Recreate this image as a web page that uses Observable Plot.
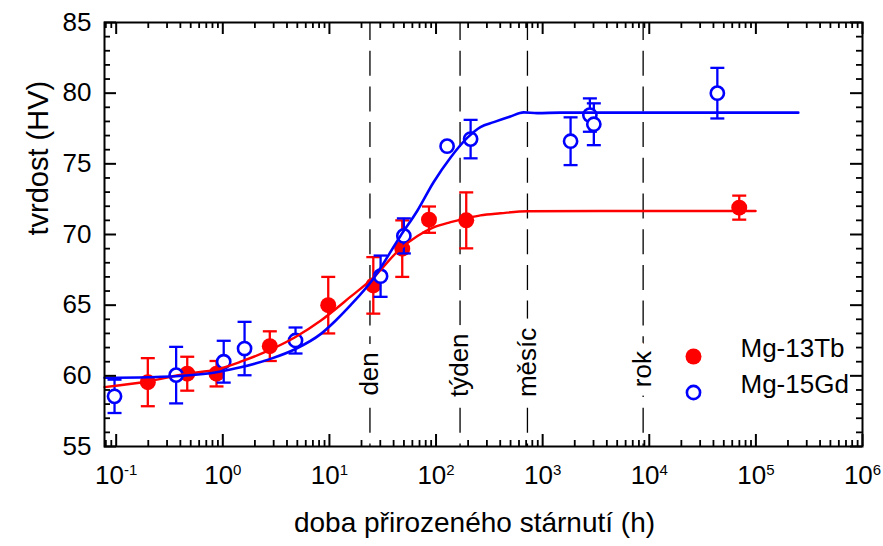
<!DOCTYPE html>
<html><head><meta charset="utf-8">
<script src="https://cdn.jsdelivr.net/npm/d3@7"></script>
<script src="https://cdn.jsdelivr.net/npm/@observablehq/plot@0.6"></script>
<style>
body{margin:0;background:#fff;}
#chart{width:883px;height:546px;}
svg text{font-family:"Liberation Sans",Arial,sans-serif;}
</style></head><body><div id="chart"></div>
<script>
// ---- data ----
const tbTime = [0.198, 0.464, 0.873, 2.76, 9.75, 25.8, 48.2, 85.9, 192, 69800];
const tbHV   = [59.55, 60.15, 60.15, 62.1, 65.0, 66.4, 69.0, 71.05, 71.0, 71.9];
const tbErr  = [1.7, 1.2, 0.9, 1.05, 2.0, 2.0, 2.0, 0.93, 1.98, 0.85];

const gdTime = [0.0965, 0.365, 1.02, 1.6, 4.81, 30.2, 49.9, 127, 211, 1828, 2773, 3020, 43500];
const gdHV   = [58.55, 60.05, 61.0, 61.93, 62.5, 67.05, 69.9, 76.25, 76.75, 76.6, 78.45, 77.8, 80.0];
const gdErr  = [1.18, 2.0, 1.48, 1.89, 0.92, 1.46, 1.24, 0, 1.36, 1.69, 1.18, 1.48, 1.79];

const tbFitTime = [0.0778, 0.197, 0.456, 0.873, 1.47, 2.80, 4.81, 8.26, 15.8, 25.4, 46.4, 67.0, 94.8, 137, 197, 261, 402, 721, 3490, 99300];
const tbFitHV   = [59.2, 59.6, 60.15, 60.45, 61.0, 61.85, 62.75, 63.9, 65.6, 66.9, 69.0, 69.9, 70.5, 70.87, 71.16, 71.35, 71.5, 71.65, 71.66, 71.66];

const gdFitTime = [0.0778, 0.197, 0.456, 0.873, 1.47, 2.80, 4.81, 8.26, 11.4, 15.8, 25.4, 46.4, 67.0, 94.8, 137, 197, 261, 348, 498, 664, 890, 1470, 250000];
const gdFitHV   = [59.86, 59.9, 60.02, 60.26, 60.6, 61.2, 61.9, 62.95, 63.9, 65.0, 66.8, 69.9, 71.7, 73.7, 75.45, 76.85, 77.6, 77.95, 78.35, 78.64, 78.59, 78.62, 78.62];

const periodNames  = ["den", "týden", "měsíc", "rok"];
const periodHours  = [24, 168, 720, 8760];
const periodLabelY = [58.6, 58.5, 58.5, 59.2];

const seriesNames = ["Mg-13Tb", "Mg-15Gd"];
const xTickExps = [-1, 0, 1, 2, 3, 4, 5, 6];
const xMinorMult = [2, 3, 4, 5, 6, 7, 8, 9];
const xMinorDecades = [-2, -1, 0, 1, 2, 3, 4, 5];
const yTicks = [55, 60, 65, 70, 75, 80, 85];
const yMinor = d3.range(55, 86).filter(v => v % 5 !== 0);

const xTitle = "doba přirozeného stárnutí (h)";
const yTitle = "tvrdost (HV)";

// ---- tables ----
const tb = tbTime.map((t, i) => ({t, v: tbHV[i], lo: tbHV[i] - tbErr[i], hi: tbHV[i] + tbErr[i], e: tbErr[i]}));
const gd = gdTime.map((t, i) => ({t, v: gdHV[i], lo: gdHV[i] - gdErr[i], hi: gdHV[i] + gdErr[i], e: gdErr[i]}));
const gdE = gd.filter(d => d.e > 0);
const tbFit = tbFitTime.map((t, i) => ({t, v: tbFitHV[i]}));
const gdFit = gdFitTime.map((t, i) => ({t, v: gdFitHV[i]}));
const xMajor = xTickExps.map(e => 10 ** e);
const xDomain = [0.0777, 1e6];
const xMinor = xMinorDecades.flatMap(k => xMinorMult.map(m => m * 10 ** k)).filter(v => v >= xDomain[0] && v <= xDomain[1]);

const W = 883, H = 546, mL = 104, mR = 21, mT = 22, mB = 100;
const fW = W - mL - mR, fH = H - mT - mB;
const majLen = 12, minLen = 6;
const RED = "#ff0000", BLUE = "#0000ff";
const capSymbol = {draw(ctx, size) { const r = Math.sqrt(size / Math.PI); ctx.moveTo(-r, 0); ctx.lineTo(r, 0); }};

const chart = Plot.plot({
  width: W, height: H,
  marginLeft: mL, marginRight: mR, marginTop: mT, marginBottom: mB,
  x: {type: "log", domain: xDomain, axis: null},
  y: {domain: [55, 85], axis: null},
  style: {fontFamily: '"Liberation Sans", Arial, sans-serif', background: "white", color: "black", overflow: "visible"},
  marks: [
    // period lines
    Plot.ruleX(periodHours, {x: d => d, stroke: "black", strokeWidth: 1.3, strokeDasharray: "25,10.7", strokeDashoffset: 7}),
    Plot.text(periodNames, {x: (d, i) => periodHours[i], y: (d, i) => periodLabelY[i], text: d => d, rotate: -90,
      textAnchor: "start", lineAnchor: "middle", fontSize: 26, fill: "black", stroke: "white", strokeWidth: 20, strokeLinejoin: "round"}),
    // Mg-13Tb
    Plot.ruleX(tb, {x: "t", y1: "lo", y2: "hi", stroke: RED, strokeWidth: 2.3}),
    Plot.dot(tb, {x: "t", y: "lo", symbol: capSymbol, r: 7, stroke: RED, strokeWidth: 2.3, fill: "none"}),
    Plot.dot(tb, {x: "t", y: "hi", symbol: capSymbol, r: 7, stroke: RED, strokeWidth: 2.3, fill: "none"}),
    Plot.dot(tb, {x: "t", y: "v", r: 8, fill: RED}),
    // Mg-15Gd
    Plot.ruleX(gdE, {x: "t", y1: "lo", y2: "hi", stroke: BLUE, strokeWidth: 2.3}),
    Plot.dot(gdE, {x: "t", y: "lo", symbol: capSymbol, r: 7, stroke: BLUE, strokeWidth: 2.3, fill: "none"}),
    Plot.dot(gdE, {x: "t", y: "hi", symbol: capSymbol, r: 7, stroke: BLUE, strokeWidth: 2.3, fill: "none"}),
    Plot.dot(gd, {x: "t", y: "v", r: 6.6, stroke: BLUE, strokeWidth: 2.6, fill: "white"}),
    // fits
    Plot.line(tbFit, {x: "t", y: "v", stroke: RED, strokeWidth: 2.4, curve: "monotone-x"}),
    Plot.line(gdFit, {x: "t", y: "v", stroke: BLUE, strokeWidth: 2.6, curve: "monotone-x"}),
    // ticks (inward, all four sides)
    Plot.ruleX(xMajor, {x: d => d, insetTop: fH - majLen, stroke: "black", strokeWidth: 2}),
    Plot.ruleX(xMajor, {x: d => d, insetBottom: fH - majLen, stroke: "black", strokeWidth: 2}),
    Plot.ruleX(xMinor, {x: d => d, insetTop: fH - minLen, stroke: "black", strokeWidth: 1.8}),
    Plot.ruleX(xMinor, {x: d => d, insetBottom: fH - minLen, stroke: "black", strokeWidth: 1.8}),
    Plot.ruleY(yTicks, {y: d => d, insetRight: fW - majLen, stroke: "black", strokeWidth: 2}),
    Plot.ruleY(yTicks, {y: d => d, insetLeft: fW - majLen, stroke: "black", strokeWidth: 2}),
    Plot.ruleY(yMinor, {y: d => d, insetRight: fW - minLen, stroke: "black", strokeWidth: 1.8}),
    Plot.ruleY(yMinor, {y: d => d, insetLeft: fW - minLen, stroke: "black", strokeWidth: 1.8}),
    Plot.frame({stroke: "black", strokeWidth: 2}),
    // tick labels
    Plot.text(yTicks, {y: d => d, text: d => String(d), frameAnchor: "left", textAnchor: "end", dx: -13, fontSize: 26, fill: "black"}),
    Plot.text(xTickExps, {x: e => 10 ** e, text: e => "10|" + e, frameAnchor: "bottom", dy: 37, fontSize: 26, fill: "black"}),
    // axis titles
    Plot.text([xTitle], {frameAnchor: "bottom", dx: -9, dy: 85, fontSize: 28, fill: "black"}),
    Plot.text([yTitle], {frameAnchor: "left", dx: -66, dy: 1, rotate: -90, fontSize: 29, fill: "black"}),
    // legend
    Plot.dot([seriesNames[0]], {frameAnchor: "bottom-right", dx: -169, dy: -90, r: 8, fill: RED}),
    Plot.dot([seriesNames[1]], {frameAnchor: "bottom-right", dx: -169, dy: -54, r: 6.6, stroke: BLUE, strokeWidth: 2.6, fill: "white"}),
    Plot.text([seriesNames[0]], {frameAnchor: "bottom-right", dx: -122, dy: -90, textAnchor: "start", fontSize: 26, fill: "black"}),
    Plot.text([seriesNames[1]], {frameAnchor: "bottom-right", dx: -122, dy: -54, textAnchor: "start", fontSize: 26, fill: "black"})
  ]
});

// superscript exponents in x tick labels
d3.select(chart).selectAll("text").each(function() {
  const t = this.textContent;
  if (/^10\|/.test(t)) {
    const exp = t.split("|")[1];
    this.textContent = "";
    const s = d3.select(this);
    s.append("tspan").text("10");
    s.append("tspan").attr("dy", -8.5).attr("font-size", "15px").text(exp);
  }
});

document.getElementById("chart").appendChild(chart);
</script></body></html>
